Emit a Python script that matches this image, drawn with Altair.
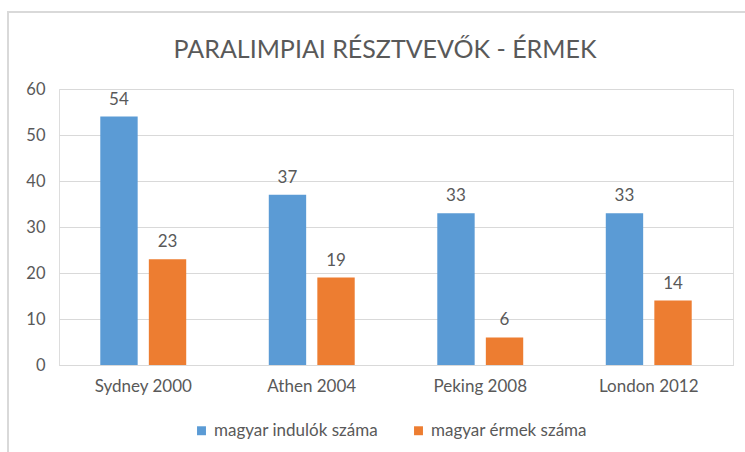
import altair as alt
import pandas as pd

categories = ["Sydney 2000", "Athen 2004", "Peking 2008", "London 2012"]
series = ["magyar indulók száma", "magyar érmek száma"]
indulok = [54, 37, 33, 33]
ermek = [23, 19, 6, 14]

rows = []
for c, a, b in zip(categories, indulok, ermek):
    rows.append({"cat": c, "series": series[0], "value": a})
    rows.append({"cat": c, "series": series[1], "value": b})
df = pd.DataFrame(rows)

FONT = "Lato"
GRAY = "#595959"
colors = ["#5B9BD5", "#ED7D31"]

x = alt.X("cat:N", sort=categories, title=None,
          scale=alt.Scale(paddingInner=0.49, paddingOuter=0.245),
          axis=alt.Axis(labelAngle=0, labelFontSize=17, labelColor=GRAY, labelFont=FONT,
                        ticks=False, domain=True, domainColor="#d9d9d9", labelPadding=13))
xo = alt.XOffset("series:N", sort=series, scale=alt.Scale(paddingInner=0.23, paddingOuter=0))
y = alt.Y("value:Q", title=None,
          scale=alt.Scale(domain=[0, 60]),
          axis=alt.Axis(values=[0, 10, 20, 30, 40, 50, 60], labelFontSize=16.5, labelColor=GRAY,
                        labelFont=FONT, ticks=False, domain=False, gridColor="#d9d9d9",
                        labelPadding=14))

bars = alt.Chart(df).mark_bar().encode(
    x=x, xOffset=xo, y=y,
    color=alt.Color("series:N", sort=series, scale=alt.Scale(domain=series, range=colors),
                    legend=alt.Legend(title=None, orient="none", legendX=134, legendY=333,
                                      direction="horizontal", symbolType="square",
                                      symbolSize=80, labelFontSize=17, labelColor=GRAY,
                                      labelFont=FONT, columnPadding=32, symbolOffset=0,
                                      labelOffset=4, labelLimit=400)),
)

labels = alt.Chart(df).mark_text(baseline="bottom", dy=-8, fontSize=17, color=GRAY, font=FONT).encode(
    x=x, xOffset=xo, y=y, text="value:Q"
)

border = alt.Chart(df).mark_rect(fill=None, stroke="#d9d9d9", strokeWidth=2).encode(
    x=alt.value(-51), x2=alt.value(760), y=alt.value(-77), y2=alt.value(420)
)

chart = alt.layer(border, bars, labels).properties(
    width=674, height=276,
    title=alt.TitleParams("PARALIMPIAI RÉSZTVEVŐK - ÉRMEK", fontSize=25, font=FONT,
                          fontWeight="normal", color=GRAY, anchor="middle", offset=0,
                          baseline="alphabetic", dy=72, dx=-11, frame="group"),
    autosize=alt.AutoSizeParams(type="none"),
    padding={"left": 59, "top": 89, "right": 12, "bottom": 87},
).configure_view(stroke=None).configure(background="white")

chart.save("out.html", embed_options={"renderer": "svg", "actions": False})
